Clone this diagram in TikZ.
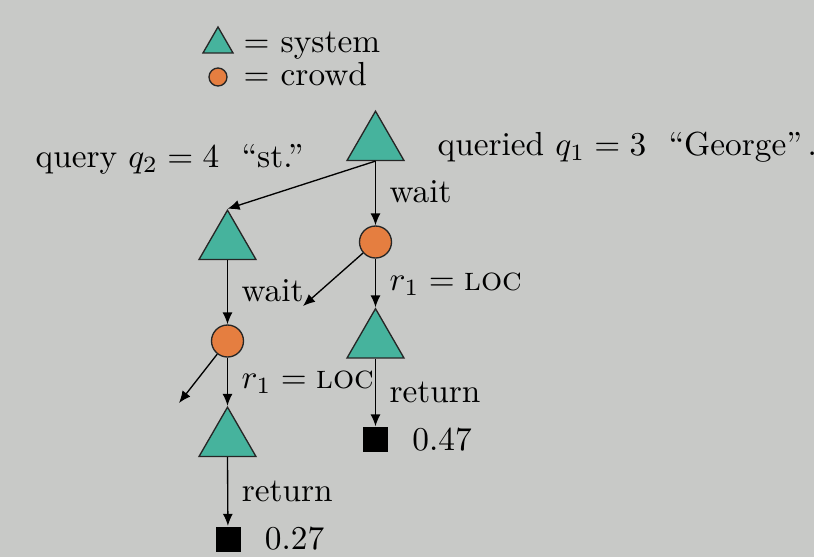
\documentclass[tikz,border=0pt]{standalone}
\usepackage{amsmath, amssymb}
\usepackage{tikz}
\usetikzlibrary{shapes.geometric, arrows.meta}
\definecolor{sysgreen}{RGB}{70,179,157}
\definecolor{crowdorange}{RGB}{229,126,64}
\definecolor{bggray}{RGB}{200,201,199}

\begin{document}
\begin{tikzpicture}[x=0.3pt, y=-0.3pt,
  sys/.style={regular polygon, regular polygon sides=3, draw=black!85, fill=sysgreen, minimum size=19.7pt, inner sep=0pt},
  crowd/.style={circle, draw=black!85, fill=crowdorange, minimum size=9.6pt, inner sep=0pt},
  leaf/.style={rectangle, fill=black, minimum size=7.5pt, inner sep=0pt},
  lab/.style={anchor=base west, inner sep=0pt, xshift=4pt, pos=0.65},
  move/.style={-{Latex[length=3.6pt, width=3pt]}}]
  \fill[bggray] (0,0) rectangle (814,557);
  \useasboundingbox (0,0) rectangle (814,557);
  % legend
  \node[sys, minimum size=10.4pt] (ksys) at (218,44.3) {};
  \node[anchor=base west, inner sep=0pt] (tsys) at (243,52) {$=$ system};
  \node[crowd, minimum size=5.4pt] (kcrowd) at (218,77) {};
  \node[anchor=base west, inner sep=0pt] (tcrowd) at (243,85) {$=$ crowd};
  % tree
  \node[sys] (root) at (375.5,144) {};
  \node[anchor=base west, inner sep=0pt] (qd) at (437,155) {queried $q_1 = 3$\ \ ``George''\,.};
  \node[anchor=base west, inner sep=0pt] (qy) at (35,167) {query $q_2 = 4$\ \ ``st.''};
  \node[sys] (tri2) at (227.5,243) {};
  \node[crowd] (circ1) at (375.5,242) {};
  \node[crowd] (circ2) at (227.5,341) {};
  \node[sys] (tri3) at (375.5,341.5) {};
  \node[sys] (tri4) at (227.5,440) {};
  \node[leaf, label={[label distance=3.6pt]right:0.47}] (sq1) at (375.5,439.5) {};
  \node[leaf, label={[label distance=3.6pt]right:0.27}] (sq2) at (228,539) {};
  \coordinate (d1) at (303,306);
  \coordinate (d2) at (179,403);

  \draw[move] (root.south) -- (tri2.north);
  \draw[move] (root.south) -- node[lab] {wait} (circ1);
  \draw[move] (circ1) -- (d1);
  \draw[move] (circ1) -- node[lab] {$r_1 = \text{\textsc{loc}}$} (tri3.north);
  \draw[move] (tri2.south) -- node[lab] {wait} (circ2);
  \draw[move] (circ2) -- (d2);
  \draw[move] (circ2) -- node[lab] {$r_1 = \text{\textsc{loc}}$} (tri4.north);
  \draw[move] (tri3.south) -- node[lab] {return} (sq1);
  \draw[move] (tri4.south) -- node[lab] {return} (sq2);
\end{tikzpicture}
\end{document}
